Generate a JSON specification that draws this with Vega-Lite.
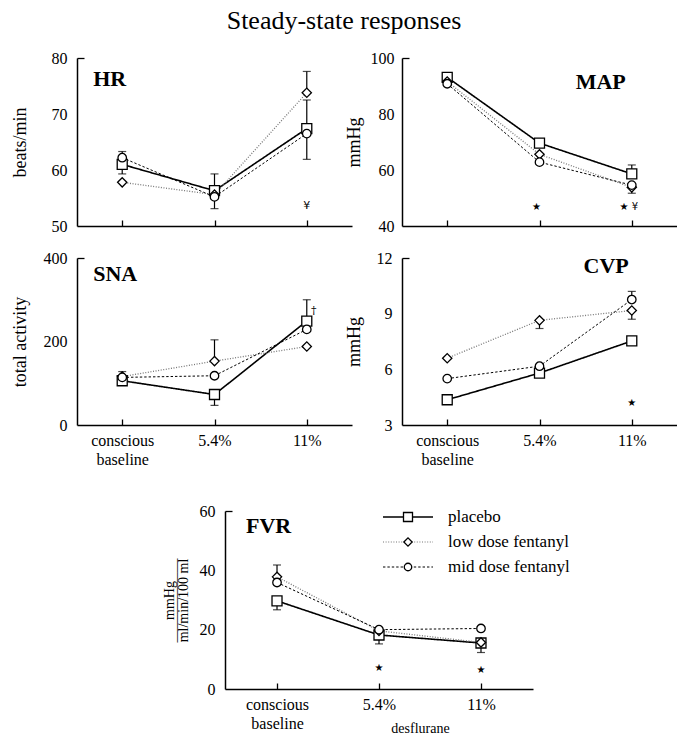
{
  "$schema": "https://vega.github.io/schema/vega-lite/v6.json",
  "padding": {"left": 11, "top": 8, "right": 0, "bottom": 0},
  "background": "white",
  "title": {"text": "Steady-state responses", "fontSize": 26, "font": "Liberation Serif", "fontWeight": "normal", "anchor": "middle", "offset": 16, "color": "black"},
  "config": {
    "font": "Liberation Serif",
    "view": {"stroke": null},
    "axis": {"domainColor": "black", "tickColor": "black", "labelColor": "black", "titleColor": "black", "labelFont": "Liberation Serif", "titleFont": "Liberation Serif", "labelFontSize": 16, "titleFontSize": 18, "titleFontWeight": "normal", "grid": false, "domainWidth": 1.5, "tickWidth": 1.3},
    "text": {"color": "black"}
  },
  "datasets": {
    "means": [
      {"panel": "HR", "condition": "conscious baseline", "group": "placebo", "value": 61.0},
      {"panel": "HR", "condition": "5.4%", "group": "placebo", "value": 56.3},
      {"panel": "HR", "condition": "11%", "group": "placebo", "value": 67.4},
      {"panel": "HR", "condition": "conscious baseline", "group": "low dose fentanyl", "value": 57.8},
      {"panel": "HR", "condition": "5.4%", "group": "low dose fentanyl", "value": 55.6},
      {"panel": "HR", "condition": "11%", "group": "low dose fentanyl", "value": 73.8},
      {"panel": "HR", "condition": "conscious baseline", "group": "mid dose fentanyl", "value": 62.2},
      {"panel": "HR", "condition": "5.4%", "group": "mid dose fentanyl", "value": 55.2},
      {"panel": "HR", "condition": "11%", "group": "mid dose fentanyl", "value": 66.5},
      {"panel": "MAP", "condition": "conscious baseline", "group": "placebo", "value": 93.1},
      {"panel": "MAP", "condition": "5.4%", "group": "placebo", "value": 69.6},
      {"panel": "MAP", "condition": "11%", "group": "placebo", "value": 58.6},
      {"panel": "MAP", "condition": "conscious baseline", "group": "low dose fentanyl", "value": 91.6},
      {"panel": "MAP", "condition": "5.4%", "group": "low dose fentanyl", "value": 65.6},
      {"panel": "MAP", "condition": "11%", "group": "low dose fentanyl", "value": 53.8},
      {"panel": "MAP", "condition": "conscious baseline", "group": "mid dose fentanyl", "value": 90.8},
      {"panel": "MAP", "condition": "5.4%", "group": "mid dose fentanyl", "value": 62.8},
      {"panel": "MAP", "condition": "11%", "group": "mid dose fentanyl", "value": 54.6},
      {"panel": "SNA", "condition": "conscious baseline", "group": "placebo", "value": 106},
      {"panel": "SNA", "condition": "5.4%", "group": "placebo", "value": 73},
      {"panel": "SNA", "condition": "11%", "group": "placebo", "value": 249},
      {"panel": "SNA", "condition": "conscious baseline", "group": "low dose fentanyl", "value": 116},
      {"panel": "SNA", "condition": "5.4%", "group": "low dose fentanyl", "value": 153},
      {"panel": "SNA", "condition": "11%", "group": "low dose fentanyl", "value": 188},
      {"panel": "SNA", "condition": "conscious baseline", "group": "mid dose fentanyl", "value": 114},
      {"panel": "SNA", "condition": "5.4%", "group": "mid dose fentanyl", "value": 118},
      {"panel": "SNA", "condition": "11%", "group": "mid dose fentanyl", "value": 229},
      {"panel": "CVP", "condition": "conscious baseline", "group": "placebo", "value": 4.36},
      {"panel": "CVP", "condition": "5.4%", "group": "placebo", "value": 5.8},
      {"panel": "CVP", "condition": "11%", "group": "placebo", "value": 7.53},
      {"panel": "CVP", "condition": "conscious baseline", "group": "low dose fentanyl", "value": 6.6},
      {"panel": "CVP", "condition": "5.4%", "group": "low dose fentanyl", "value": 8.64},
      {"panel": "CVP", "condition": "11%", "group": "low dose fentanyl", "value": 9.17},
      {"panel": "CVP", "condition": "conscious baseline", "group": "mid dose fentanyl", "value": 5.5},
      {"panel": "CVP", "condition": "5.4%", "group": "mid dose fentanyl", "value": 6.17},
      {"panel": "CVP", "condition": "11%", "group": "mid dose fentanyl", "value": 9.76},
      {"panel": "FVR", "condition": "conscious baseline", "group": "placebo", "value": 29.7},
      {"panel": "FVR", "condition": "5.4%", "group": "placebo", "value": 18.2},
      {"panel": "FVR", "condition": "11%", "group": "placebo", "value": 15.5},
      {"panel": "FVR", "condition": "conscious baseline", "group": "low dose fentanyl", "value": 37.8},
      {"panel": "FVR", "condition": "5.4%", "group": "low dose fentanyl", "value": 19.6},
      {"panel": "FVR", "condition": "11%", "group": "low dose fentanyl", "value": 15.7},
      {"panel": "FVR", "condition": "conscious baseline", "group": "mid dose fentanyl", "value": 35.9},
      {"panel": "FVR", "condition": "5.4%", "group": "mid dose fentanyl", "value": 20.0},
      {"panel": "FVR", "condition": "11%", "group": "mid dose fentanyl", "value": 20.4}
    ],
    "errors": [
      {"panel": "HR", "condition": "conscious baseline", "group": "mid dose fentanyl", "value": 62.2, "end": 63.3},
      {"panel": "HR", "condition": "conscious baseline", "group": "placebo", "value": 61.0, "end": 59.3},
      {"panel": "HR", "condition": "5.4%", "group": "placebo", "value": 56.3, "end": 59.3},
      {"panel": "HR", "condition": "5.4%", "group": "mid dose fentanyl", "value": 55.2, "end": 53.1},
      {"panel": "HR", "condition": "11%", "group": "low dose fentanyl", "value": 73.8, "end": 77.6},
      {"panel": "HR", "condition": "11%", "group": "placebo", "value": 67.4, "end": 72.5},
      {"panel": "HR", "condition": "11%", "group": "mid dose fentanyl", "value": 66.5, "end": 61.9},
      {"panel": "MAP", "condition": "11%", "group": "placebo", "value": 58.6, "end": 61.8},
      {"panel": "MAP", "condition": "11%", "group": "low dose fentanyl", "value": 53.8, "end": 51.7},
      {"panel": "SNA", "condition": "conscious baseline", "group": "low dose fentanyl", "value": 116, "end": 128},
      {"panel": "SNA", "condition": "5.4%", "group": "placebo", "value": 73, "end": 47},
      {"panel": "SNA", "condition": "5.4%", "group": "low dose fentanyl", "value": 153, "end": 204},
      {"panel": "SNA", "condition": "11%", "group": "placebo", "value": 249, "end": 300},
      {"panel": "CVP", "condition": "5.4%", "group": "low dose fentanyl", "value": 8.64, "end": 8.2},
      {"panel": "CVP", "condition": "11%", "group": "mid dose fentanyl", "value": 9.76, "end": 10.2},
      {"panel": "CVP", "condition": "11%", "group": "low dose fentanyl", "value": 9.17, "end": 8.7},
      {"panel": "FVR", "condition": "conscious baseline", "group": "placebo", "value": 29.7, "end": 26.7},
      {"panel": "FVR", "condition": "conscious baseline", "group": "low dose fentanyl", "value": 37.8, "end": 41.8},
      {"panel": "FVR", "condition": "5.4%", "group": "placebo", "value": 18.2, "end": 15.2},
      {"panel": "FVR", "condition": "11%", "group": "placebo", "value": 15.5, "end": 12.3}
    ],
    "notes": [
      {"panel": "HR", "condition": "11%", "value": 53.6, "text": "¥"},
      {"panel": "MAP", "condition": "5.4%", "value": 46.7, "text": "★"},
      {"panel": "MAP", "condition": "11%", "value": 46.7, "text": "★  ¥"},
      {"panel": "SNA", "condition": "11%", "value": 273, "text": "†"},
      {"panel": "CVP", "condition": "11%", "value": 4.16, "text": "★"},
      {"panel": "FVR", "condition": "5.4%", "value": 7.1, "text": "★"},
      {"panel": "FVR", "condition": "11%", "value": 6.4, "text": "★"}
    ],
    "names": [
      {"panel": "HR", "condition": "conscious baseline", "value": 76.25, "text": "HR"},
      {"panel": "MAP", "condition": "11%", "value": 91.4, "text": "MAP"},
      {"panel": "SNA", "condition": "conscious baseline", "value": 361.7, "text": "SNA"},
      {"panel": "CVP", "condition": "11%", "value": 11.57, "text": "CVP"},
      {"panel": "FVR", "condition": "conscious baseline", "value": 54.9, "text": "FVR"}
    ],
    "key": [
      {"group": "placebo", "pos": "start"},
      {"group": "placebo", "pos": "mid"},
      {"group": "placebo", "pos": "end"},
      {"group": "low dose fentanyl", "pos": "start"},
      {"group": "low dose fentanyl", "pos": "mid"},
      {"group": "low dose fentanyl", "pos": "end"},
      {"group": "mid dose fentanyl", "pos": "start"},
      {"group": "mid dose fentanyl", "pos": "mid"},
      {"group": "mid dose fentanyl", "pos": "end"}
    ]
  },
  "vconcat": [
    {
      "vconcat": [
        {
          "hconcat": [
            {
              "width": 275, "height": 168,
              "encoding": {
                "x": {"field": "condition", "type": "ordinal", "scale": {"type": "point", "domain": ["conscious baseline", "5.4%", "11%"], "padding": 0.49}, "axis": {"labels": false, "title": null, "tickSize": -6}},
                "y": {"field": "value", "type": "quantitative", "scale": {"domain": [50, 80], "nice": false, "zero": false}, "axis": {"title": "beats/min", "values": [50, 60, 70, 80], "tickSize": -7, "tickOpacity": {"condition": {"test": "datum.value == 80", "value": 1}, "value": 0}, "labelPadding": 17, "minExtent": 38, "maxExtent": 38, "titlePadding": 10}}
              },
              "layer": [
                {"data": {"name": "means"}, "transform": [{"filter": "datum.panel == 'HR'"}], "mark": {"type": "line"},
                 "encoding": {
                   "strokeDash": {"field": "group", "type": "nominal", "scale": {"domain": ["placebo", "low dose fentanyl", "mid dose fentanyl"], "range": [[1, 0], [1, 1.6], [2.4, 2]]}, "legend": null},
                   "color": {"field": "group", "type": "nominal", "scale": {"domain": ["placebo", "low dose fentanyl", "mid dose fentanyl"], "range": ["black", "#777777", "black"]}, "legend": null},
                   "strokeWidth": {"field": "group", "type": "nominal", "scale": {"domain": ["placebo", "low dose fentanyl", "mid dose fentanyl"], "range": [1.6, 1, 2.2]}, "legend": null}
                 }},
                {"data": {"name": "errors"}, "transform": [{"filter": "datum.panel == 'HR'"}], "mark": {"type": "errorbar", "ticks": {"size": 8}, "color": "black", "thickness": 1.2},
                 "encoding": {"y2": {"field": "end"}}},
                {"data": {"name": "means"}, "transform": [{"filter": "datum.panel == 'HR'"}], "mark": {"type": "point", "filled": true, "fill": "white", "stroke": "black", "strokeWidth": 1.3, "opacity": 1},
                 "encoding": {
                   "shape": {"field": "group", "type": "nominal", "scale": {"domain": ["placebo", "low dose fentanyl", "mid dose fentanyl"], "range": ["square", "diamond", "circle"]}, "legend": null},
                   "size": {"field": "group", "type": "nominal", "scale": {"domain": ["placebo", "low dose fentanyl", "mid dose fentanyl"], "range": [100, 72, 81]}, "legend": null}
                 }},
                {"data": {"name": "notes"}, "transform": [{"filter": "datum.panel == 'HR'"}], "mark": {"type": "text", "font": "DejaVu Sans", "fontSize": 11, "color": "black"},
                 "encoding": {"text": {"field": "text"}}},
                {"data": {"name": "names"}, "transform": [{"filter": "datum.panel == 'HR'"}], "mark": {"type": "text", "fontWeight": "bold", "fontSize": 22, "align": "left", "dx": -29, "color": "black"},
                 "encoding": {"text": {"field": "text"}}}
              ]
            },
            {
              "width": 275, "height": 168,
              "encoding": {
                "x": {"field": "condition", "type": "ordinal", "scale": {"type": "point", "domain": ["conscious baseline", "5.4%", "11%"], "padding": 0.49}, "axis": {"labels": false, "title": null, "tickSize": -6}},
                "y": {"field": "value", "type": "quantitative", "scale": {"domain": [40, 100], "nice": false, "zero": false}, "axis": {"title": "mmHg", "values": [40, 60, 80, 100], "tickSize": -7, "tickOpacity": {"condition": {"test": "datum.value == 100", "value": 1}, "value": 0}, "labelPadding": 15, "minExtent": 30, "maxExtent": 30, "titlePadding": 9}}
              },
              "layer": [
                {"data": {"name": "means"}, "transform": [{"filter": "datum.panel == 'MAP'"}], "mark": {"type": "line"},
                 "encoding": {
                   "strokeDash": {"field": "group", "type": "nominal", "scale": {"domain": ["placebo", "low dose fentanyl", "mid dose fentanyl"], "range": [[1, 0], [1, 1.6], [2.4, 2]]}, "legend": null},
                   "color": {"field": "group", "type": "nominal", "scale": {"domain": ["placebo", "low dose fentanyl", "mid dose fentanyl"], "range": ["black", "#777777", "black"]}, "legend": null},
                   "strokeWidth": {"field": "group", "type": "nominal", "scale": {"domain": ["placebo", "low dose fentanyl", "mid dose fentanyl"], "range": [1.6, 1, 2.2]}, "legend": null}
                 }},
                {"data": {"name": "errors"}, "transform": [{"filter": "datum.panel == 'MAP'"}], "mark": {"type": "errorbar", "ticks": {"size": 8}, "color": "black", "thickness": 1.2},
                 "encoding": {"y2": {"field": "end"}}},
                {"data": {"name": "means"}, "transform": [{"filter": "datum.panel == 'MAP'"}], "mark": {"type": "point", "filled": true, "fill": "white", "stroke": "black", "strokeWidth": 1.3, "opacity": 1},
                 "encoding": {
                   "shape": {"field": "group", "type": "nominal", "scale": {"domain": ["placebo", "low dose fentanyl", "mid dose fentanyl"], "range": ["square", "diamond", "circle"]}, "legend": null},
                   "size": {"field": "group", "type": "nominal", "scale": {"domain": ["placebo", "low dose fentanyl", "mid dose fentanyl"], "range": [100, 72, 81]}, "legend": null}
                 }},
                {"data": {"name": "notes"}, "transform": [{"filter": "datum.panel == 'MAP'"}], "mark": {"type": "text", "font": "DejaVu Sans", "fontSize": 10, "dx": -3, "color": "black"},
                 "encoding": {"text": {"field": "text"}}},
                {"data": {"name": "names"}, "transform": [{"filter": "datum.panel == 'MAP'"}], "mark": {"type": "text", "fontWeight": "bold", "fontSize": 22, "align": "right", "dx": -6, "color": "black"},
                 "encoding": {"text": {"field": "text"}}}
              ]
            }
          ],
          "spacing": -7,
          "resolve": {"scale": {"x": "independent", "y": "independent", "shape": "independent", "strokeDash": "independent", "color": "independent", "size": "independent", "strokeWidth": "independent"}}
        },
        {
          "hconcat": [
            {
              "width": 275, "height": 167,
              "encoding": {
                "x": {"field": "condition", "type": "ordinal", "scale": {"type": "point", "domain": ["conscious baseline", "5.4%", "11%"], "padding": 0.49}, "axis": {"title": null, "tickSize": -6, "labelAngle": 0, "labelPadding": 13, "labelLineHeight": 19, "labelExpr": "datum.value == 'conscious baseline' ? ['conscious', 'baseline'] : datum.value"}},
                "y": {"field": "value", "type": "quantitative", "scale": {"domain": [0, 400], "nice": false, "zero": false}, "axis": {"title": "total activity", "values": [0, 200, 400], "tickSize": -7, "tickOpacity": {"condition": {"test": "datum.value == 400", "value": 1}, "value": 0}, "labelPadding": 17, "minExtent": 38, "maxExtent": 38, "titlePadding": 10}}
              },
              "layer": [
                {"data": {"name": "means"}, "transform": [{"filter": "datum.panel == 'SNA'"}], "mark": {"type": "line"},
                 "encoding": {
                   "strokeDash": {"field": "group", "type": "nominal", "scale": {"domain": ["placebo", "low dose fentanyl", "mid dose fentanyl"], "range": [[1, 0], [1, 1.6], [2.4, 2]]}, "legend": null},
                   "color": {"field": "group", "type": "nominal", "scale": {"domain": ["placebo", "low dose fentanyl", "mid dose fentanyl"], "range": ["black", "#777777", "black"]}, "legend": null},
                   "strokeWidth": {"field": "group", "type": "nominal", "scale": {"domain": ["placebo", "low dose fentanyl", "mid dose fentanyl"], "range": [1.6, 1, 2.2]}, "legend": null}
                 }},
                {"data": {"name": "errors"}, "transform": [{"filter": "datum.panel == 'SNA'"}], "mark": {"type": "errorbar", "ticks": {"size": 8}, "color": "black", "thickness": 1.2},
                 "encoding": {"y2": {"field": "end"}}},
                {"data": {"name": "means"}, "transform": [{"filter": "datum.panel == 'SNA'"}], "mark": {"type": "point", "filled": true, "fill": "white", "stroke": "black", "strokeWidth": 1.3, "opacity": 1},
                 "encoding": {
                   "shape": {"field": "group", "type": "nominal", "scale": {"domain": ["placebo", "low dose fentanyl", "mid dose fentanyl"], "range": ["square", "diamond", "circle"]}, "legend": null},
                   "size": {"field": "group", "type": "nominal", "scale": {"domain": ["placebo", "low dose fentanyl", "mid dose fentanyl"], "range": [100, 72, 81]}, "legend": null}
                 }},
                {"data": {"name": "notes"}, "transform": [{"filter": "datum.panel == 'SNA'"}], "mark": {"type": "text", "font": "DejaVu Serif", "fontSize": 11, "dx": 7, "color": "black"},
                 "encoding": {"text": {"field": "text"}}},
                {"data": {"name": "names"}, "transform": [{"filter": "datum.panel == 'SNA'"}], "mark": {"type": "text", "fontWeight": "bold", "fontSize": 22, "align": "left", "dx": -29, "color": "black"},
                 "encoding": {"text": {"field": "text"}}}
              ]
            },
            {
              "width": 275, "height": 167,
              "encoding": {
                "x": {"field": "condition", "type": "ordinal", "scale": {"type": "point", "domain": ["conscious baseline", "5.4%", "11%"], "padding": 0.49}, "axis": {"title": null, "tickSize": -6, "labelAngle": 0, "labelPadding": 13, "labelLineHeight": 19, "labelExpr": "datum.value == 'conscious baseline' ? ['conscious', 'baseline'] : datum.value"}},
                "y": {"field": "value", "type": "quantitative", "scale": {"domain": [3, 12], "nice": false, "zero": false}, "axis": {"title": "mmHg", "values": [3, 6, 9, 12], "tickSize": -7, "tickOpacity": {"condition": {"test": "datum.value == 12", "value": 1}, "value": 0}, "labelPadding": 17, "minExtent": 30, "maxExtent": 30, "titlePadding": 9}}
              },
              "layer": [
                {"data": {"name": "means"}, "transform": [{"filter": "datum.panel == 'CVP'"}], "mark": {"type": "line"},
                 "encoding": {
                   "strokeDash": {"field": "group", "type": "nominal", "scale": {"domain": ["placebo", "low dose fentanyl", "mid dose fentanyl"], "range": [[1, 0], [1, 1.6], [2.4, 2]]}, "legend": null},
                   "color": {"field": "group", "type": "nominal", "scale": {"domain": ["placebo", "low dose fentanyl", "mid dose fentanyl"], "range": ["black", "#777777", "black"]}, "legend": null},
                   "strokeWidth": {"field": "group", "type": "nominal", "scale": {"domain": ["placebo", "low dose fentanyl", "mid dose fentanyl"], "range": [1.6, 1, 2.2]}, "legend": null}
                 }},
                {"data": {"name": "errors"}, "transform": [{"filter": "datum.panel == 'CVP'"}], "mark": {"type": "errorbar", "ticks": {"size": 8}, "color": "black", "thickness": 1.2},
                 "encoding": {"y2": {"field": "end"}}},
                {"data": {"name": "means"}, "transform": [{"filter": "datum.panel == 'CVP'"}], "mark": {"type": "point", "filled": true, "fill": "white", "stroke": "black", "strokeWidth": 1.3, "opacity": 1},
                 "encoding": {
                   "shape": {"field": "group", "type": "nominal", "scale": {"domain": ["placebo", "low dose fentanyl", "mid dose fentanyl"], "range": ["square", "diamond", "circle"]}, "legend": null},
                   "size": {"field": "group", "type": "nominal", "scale": {"domain": ["placebo", "low dose fentanyl", "mid dose fentanyl"], "range": [100, 72, 81]}, "legend": null}
                 }},
                {"data": {"name": "notes"}, "transform": [{"filter": "datum.panel == 'CVP'"}], "mark": {"type": "text", "font": "DejaVu Sans", "fontSize": 10, "color": "black"},
                 "encoding": {"text": {"field": "text"}}},
                {"data": {"name": "names"}, "transform": [{"filter": "datum.panel == 'CVP'"}], "mark": {"type": "text", "fontWeight": "bold", "fontSize": 22, "align": "right", "dx": -3, "color": "black"},
                 "encoding": {"text": {"field": "text"}}}
              ]
            }
          ],
          "spacing": -7,
          "resolve": {"scale": {"x": "independent", "y": "independent", "shape": "independent", "strokeDash": "independent", "color": "independent", "size": "independent", "strokeWidth": "independent"}}
        }
      ],
      "spacing": 16,
      "resolve": {"scale": {"x": "independent", "y": "independent", "shape": "independent", "strokeDash": "independent", "color": "independent", "size": "independent", "strokeWidth": "independent"}}
    },
    {
      "hconcat": [
        {"width": 85, "height": 10, "data": {"values": [{"panel": "spacer"}]}, "mark": {"type": "point", "opacity": 0}, "encoding": {}},
        {
          "width": 308, "height": 178,
          "layer": [
            {
              "encoding": {
                "x": {"field": "condition", "type": "ordinal", "scale": {"type": "point", "domain": ["conscious baseline", "5.4%", "11%"], "padding": 0.51}, "axis": {"title": "desflurane", "titleFontSize": 14, "titleX": 195, "titleY": 43, "titleBaseline": "alphabetic", "titleAlign": "center", "tickSize": -6, "labelAngle": 0, "labelPadding": 13, "labelLineHeight": 19, "labelExpr": "datum.value == 'conscious baseline' ? ['conscious', 'baseline'] : datum.value"}},
                "y": {"field": "value", "type": "quantitative", "scale": {"domain": [0, 60], "nice": false, "zero": false}, "axis": {"title": ["mmHg", "——————", "ml/min/100 ml"], "titleFontSize": 14, "titleLineHeight": 7, "values": [0, 20, 40, 60], "tickSize": -7, "tickOpacity": {"condition": {"test": "datum.value == 60", "value": 1}, "value": 0}, "labelPadding": 17, "minExtent": 26, "maxExtent": 26, "titlePadding": 9}}
              },
              "layer": [
                {"data": {"name": "means"}, "transform": [{"filter": "datum.panel == 'FVR'"}], "mark": {"type": "line"},
                 "encoding": {
                   "strokeDash": {"field": "group", "type": "nominal", "scale": {"domain": ["placebo", "low dose fentanyl", "mid dose fentanyl"], "range": [[1, 0], [1, 1.6], [2.4, 2]]}, "legend": null},
                   "color": {"field": "group", "type": "nominal", "scale": {"domain": ["placebo", "low dose fentanyl", "mid dose fentanyl"], "range": ["black", "#777777", "black"]}, "legend": null},
                   "strokeWidth": {"field": "group", "type": "nominal", "scale": {"domain": ["placebo", "low dose fentanyl", "mid dose fentanyl"], "range": [1.6, 1, 2.2]}, "legend": null}
                 }},
                {"data": {"name": "errors"}, "transform": [{"filter": "datum.panel == 'FVR'"}], "mark": {"type": "errorbar", "ticks": {"size": 8}, "color": "black", "thickness": 1.2},
                 "encoding": {"y2": {"field": "end"}}},
                {"data": {"name": "means"}, "transform": [{"filter": "datum.panel == 'FVR'"}], "mark": {"type": "point", "filled": true, "fill": "white", "stroke": "black", "strokeWidth": 1.3, "opacity": 1},
                 "encoding": {
                   "shape": {"field": "group", "type": "nominal", "scale": {"domain": ["placebo", "low dose fentanyl", "mid dose fentanyl"], "range": ["square", "diamond", "circle"]}, "legend": null},
                   "size": {"field": "group", "type": "nominal", "scale": {"domain": ["placebo", "low dose fentanyl", "mid dose fentanyl"], "range": [100, 72, 81]}, "legend": null}
                 }},
                {"data": {"name": "notes"}, "transform": [{"filter": "datum.panel == 'FVR'"}], "mark": {"type": "text", "font": "DejaVu Sans", "fontSize": 10, "color": "black"},
                 "encoding": {"text": {"field": "text"}}},
                {"data": {"name": "names"}, "transform": [{"filter": "datum.panel == 'FVR'"}], "mark": {"type": "text", "fontWeight": "bold", "fontSize": 22, "align": "left", "dx": -31, "color": "black"},
                 "encoding": {"text": {"field": "text"}}}
              ]
            },
            {
              "data": {"name": "key"},
              "encoding": {
                "x": {"field": "pos", "type": "ordinal", "scale": {"type": "point", "domain": ["start", "mid", "end"], "range": [158, 208], "padding": 0}, "axis": null},
                "y": {"field": "group", "type": "ordinal", "scale": {"type": "point", "domain": ["placebo", "low dose fentanyl", "mid dose fentanyl"], "range": [6, 56], "padding": 0}, "axis": null}
              },
              "layer": [
                {"mark": {"type": "line"},
                 "encoding": {
                   "strokeDash": {"field": "group", "type": "nominal", "scale": {"domain": ["placebo", "low dose fentanyl", "mid dose fentanyl"], "range": [[1, 0], [1, 1.6], [2.4, 2]]}, "legend": null},
                   "color": {"field": "group", "type": "nominal", "scale": {"domain": ["placebo", "low dose fentanyl", "mid dose fentanyl"], "range": ["black", "#777777", "black"]}, "legend": null},
                   "strokeWidth": {"field": "group", "type": "nominal", "scale": {"domain": ["placebo", "low dose fentanyl", "mid dose fentanyl"], "range": [1.4, 1, 2]}, "legend": null}
                 }},
                {"transform": [{"filter": "datum.pos == 'mid'"}], "mark": {"type": "point", "filled": true, "fill": "white", "stroke": "black", "strokeWidth": 1.3, "opacity": 1},
                 "encoding": {
                   "shape": {"field": "group", "type": "nominal", "scale": {"domain": ["placebo", "low dose fentanyl", "mid dose fentanyl"], "range": ["square", "diamond", "circle"]}, "legend": null},
                   "size": {"field": "group", "type": "nominal", "scale": {"domain": ["placebo", "low dose fentanyl", "mid dose fentanyl"], "range": [81, 56, 72]}, "legend": null}
                 }},
                {"transform": [{"filter": "datum.pos == 'end'"}], "mark": {"type": "text", "align": "left", "dx": 15, "fontSize": 17, "font": "Liberation Serif", "color": "black"},
                 "encoding": {"text": {"field": "group"}}}
              ]
            }
          ],
          "resolve": {"scale": {"x": "independent", "y": "independent", "shape": "independent", "strokeDash": "independent", "color": "independent", "size": "independent", "strokeWidth": "independent"}, "axis": {"x": "independent", "y": "independent"}}
        }
      ],
      "spacing": 0,
      "resolve": {"scale": {"x": "independent", "y": "independent", "shape": "independent", "strokeDash": "independent", "color": "independent", "size": "independent", "strokeWidth": "independent"}}
    }
  ],
  "spacing": 36,
  "resolve": {"scale": {"x": "independent", "y": "independent", "shape": "independent", "strokeDash": "independent", "color": "independent", "size": "independent", "strokeWidth": "independent"}}
}
